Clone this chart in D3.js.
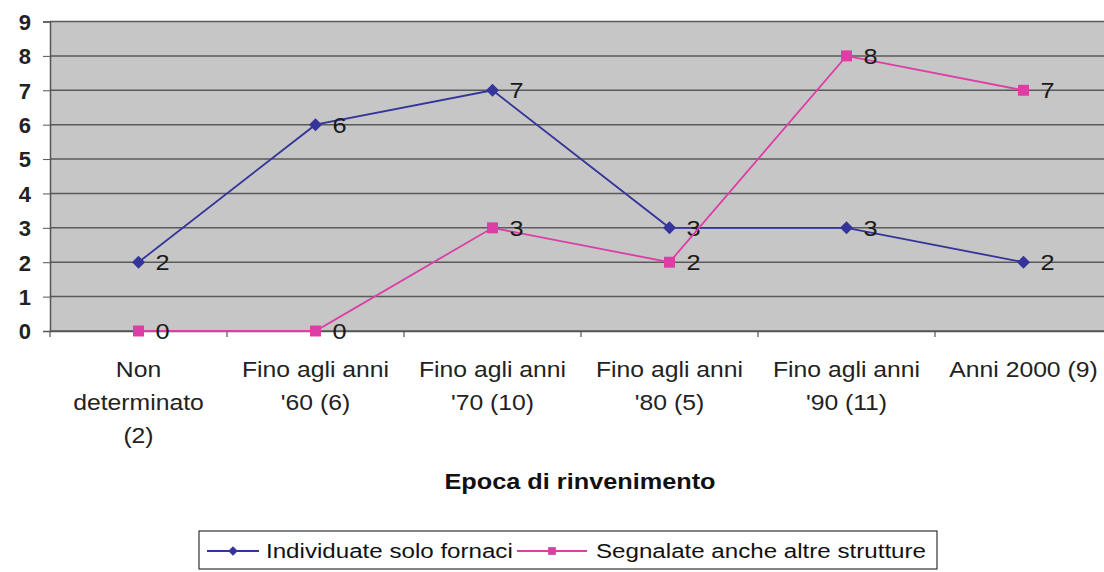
<!DOCTYPE html>
<html><head><meta charset="utf-8">
<script src="https://cdn.jsdelivr.net/npm/d3@7"></script>
<style>body{margin:0;background:#fff}svg{display:block}text{font-family:Arial,"Liberation Sans",sans-serif}</style>
</head><body>
<svg id="c" width="1104" height="572"></svg>
<script>
const categories = [["Non","determinato","(2)"],["Fino agli anni","'60 (6)"],["Fino agli anni","'70 (10)"],["Fino agli anni","'80 (5)"],["Fino agli anni","'90 (11)"],["Anni 2000 (9)"]];
const seriesNames = ["Individuate solo fornaci","Segnalate anche altre strutture"];
const fornaci = [2,6,7,3,3,2];
const altre = [0,0,3,2,8,7];
const yTicks = [0,1,2,3,4,5,6,7,8,9];
const xTitle = "Epoca di rinvenimento";

const SX = 1.15;
const svg = d3.select("#c");
const m = {l:50, t:21.5, r:1112, b:331};
const keys = categories.map((c,i)=>i);
const x = d3.scaleBand().domain(keys).range([m.l, m.r]);
const y = d3.scaleLinear().domain([0,9]).range([m.b, m.t]);
const colors = ["#34349a","#dc3ea6"];

svg.append("rect").attr("x",m.l).attr("y",m.t).attr("width",m.r-m.l).attr("height",m.b-m.t).attr("fill","#c6c6c6");
svg.append("g").selectAll("line").data(yTicks).join("line")
  .attr("x1",m.l).attr("x2",m.r).attr("y1",d=>y(d)).attr("y2",d=>y(d))
  .attr("stroke","#5a5a5a").attr("stroke-width",1.5);

const ya = svg.append("g").attr("transform",`translate(${m.l},0)`)
  .call(d3.axisLeft(y).tickValues(yTicks).tickSize(7).tickPadding(12));
ya.select(".domain").attr("stroke","#555").attr("stroke-width",1.5);
ya.selectAll(".tick line").attr("stroke","#555");
ya.selectAll("text").attr("font-size",22).attr("fill","#222").attr("font-weight","bold").attr("dy","0.36em");

const xa = svg.append("g").attr("transform",`translate(0,${m.b})`)
  .call(d3.axisBottom(x).tickValues([]).tickSizeOuter(0));
xa.select(".domain").attr("stroke","#555").attr("stroke-width",1.5);
const bounds = keys.map(k=>x(k)).concat([m.r]);
svg.append("g").selectAll("line").data(bounds).join("line")
  .attr("x1",d=>d).attr("x2",d=>d).attr("y1",m.b).attr("y2",m.b+6).attr("stroke","#555").attr("stroke-width",1.2);

const lbl = svg.append("g").selectAll("text").data(categories).join("text")
  .attr("text-anchor","middle").attr("font-size",21.5).attr("fill","#222")
  .attr("transform",(d,i)=>`translate(${x(i)+x.bandwidth()/2},377) scale(${SX},1)`);
lbl.selectAll("tspan").data(d=>d).join("tspan").attr("x",0).attr("dy",(d,i)=>i?33:0).text(d=>d);

svg.append("text").attr("transform",`translate(580,489) scale(${SX},1)`).attr("text-anchor","middle")
  .attr("font-size",22).attr("font-weight","bold").attr("fill","#111").text(xTitle);

const cx = i=>x(i)+x.bandwidth()/2;
const line = d3.line().x((d,i)=>cx(i)).y(d=>y(d));
const diamond = d3.symbol().type(d3.symbolSquare).size(85);
const square = d3.symbol().type(d3.symbolSquare).size(120);
[fornaci, altre].forEach((s,k)=>{
  svg.append("path").datum(s).attr("d",line).attr("fill","none").attr("stroke",colors[k]).attr("stroke-width",1.8);
  svg.append("g").selectAll("path").data(s).join("path")
    .attr("d",k?square:diamond).attr("fill",colors[k])
    .attr("transform",(d,i)=>`translate(${cx(i)},${y(d)}) rotate(${k?0:45})`);
  svg.append("g").selectAll("text").data(s).join("text")
    .attr("transform",(d,i)=>`translate(${cx(i)+17},${y(d)+8}) scale(${SX},1)`).attr("font-size",22).attr("fill","#1a1a1a").text(d=>d);
});

// legend
const lg = svg.append("g");
lg.append("rect").attr("x",199).attr("y",531).attr("width",738).attr("height",38).attr("fill","#fff").attr("stroke","#333").attr("stroke-width",1.2);
const items = [{x:207, w:52, tx:266},{x:517, w:70, tx:596}];
items.forEach((it,k)=>{
  lg.append("line").attr("x1",it.x).attr("x2",it.x+it.w).attr("y1",551).attr("y2",551).attr("stroke",colors[k]).attr("stroke-width",1.8);
  lg.append("path").attr("d",d3.symbol().type(d3.symbolSquare).size(k?60:45)())
    .attr("fill",colors[k]).attr("transform",`translate(${it.x+it.w/2},551) rotate(${k?0:45})`);
  lg.append("text").attr("transform",`translate(${it.tx},558) scale(${SX},1)`).attr("font-size",21).attr("fill","#111").text(seriesNames[k]);
});
</script>
</body></html>
